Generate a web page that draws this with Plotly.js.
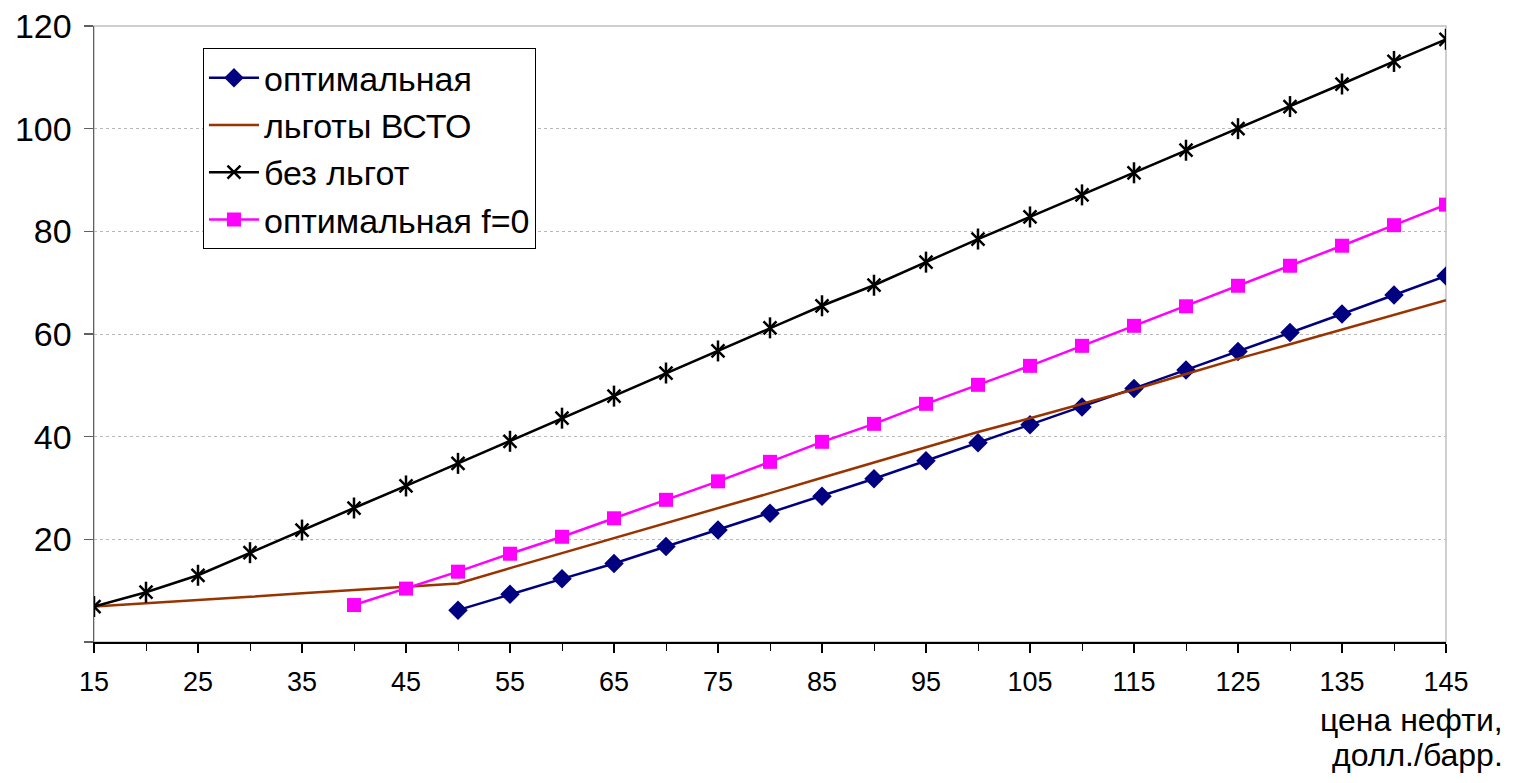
<!DOCTYPE html>
<html>
<head>
<meta charset="utf-8">
<script src="https://cdn.plot.ly/plotly-3.0.1.min.js"></script>
<style>html,body{margin:0;padding:0;background:#fff;}#chart{width:1514px;height:783px;}</style>
</head>
<body>
<div id="chart"></div>
<script>
// Data (oil price, USD/bbl)
const priceAll = [15,20,25,30,35,40,45,50,55,60,65,70,75,80,85,90,95,100,105,110,115,120,125,130,135,140,145];
const priceOpt = [50,55,60,65,70,75,80,85,90,95,100,105,110,115,120,125,130,135,140,145];
const priceF0 = [40,45,50,55,60,65,70,75,80,85,90,95,100,105,110,115,120,125,130,135,140,145];

const optimal = [6.2,9.3,12.3,15.3,18.6,21.8,25.1,28.4,31.8,35.3,38.8,42.3,45.8,49.4,53.0,56.6,60.3,63.9,67.6,71.3];
const vsto = [6.9,7.5,8.2,8.8,9.5,10.1,10.8,11.4,14.4,17.3,20.2,23.1,26.0,29.0,32.0,35.0,38.0,40.9,43.6,46.4,49.2,52.2,55.2,58.0,60.9,63.8,66.6];
const noBenefit = [6.9,9.7,13.0,17.4,21.8,26.1,30.4,34.8,39.1,43.6,47.9,52.4,56.7,61.2,65.5,69.5,74.0,78.5,82.8,87.1,91.4,95.8,100.0,104.3,108.7,113.1,117.4];
const optimalF0 = [7.2,10.4,13.7,17.2,20.5,24.1,27.7,31.3,35.1,39.0,42.5,46.4,50.1,53.8,57.7,61.6,65.4,69.4,73.3,77.2,81.2,85.2];

const seriesNames = ['оптимальная','льготы ВСТО','без льгот','оптимальная f=0'];
const xTickVals = [15,25,35,45,55,65,75,85,95,105,115,125,135,145];
const yTickVals = [0,20,40,60,80,100,120];
const yTickText = ['','20','40','60','80','100','120'];
const xTitleLines = ['цена нефти,', 'долл./барр.'];

const FONT = 'Liberation Sans, Arial, sans-serif';

const traces = [
  {x: priceOpt, y: optimal, name: seriesNames[0], mode: 'lines+markers', legendgroup: 'a',
   line: {color: '#000080', width: 2.5}, marker: {symbol: 'diamond', size: 15, color: '#000080'}},
  {x: priceAll, y: vsto, name: seriesNames[1], mode: 'lines', legendgroup: 'b',
   line: {color: '#993300', width: 2.5}},
  {x: priceAll, y: noBenefit, name: seriesNames[2], mode: 'lines+markers', legendgroup: 'c',
   line: {color: '#000000', width: 2.5}, marker: {symbol: 'x-thin-open', size: 13, color: '#000000', line: {width: 2.5, color: '#000000'}}},
  {x: priceAll, y: noBenefit, name: seriesNames[2], mode: 'markers', legendgroup: 'c', showlegend: false, hoverinfo: 'skip',
   marker: {symbol: 'line-ns-open', size: 15, color: '#000000', line: {width: 2.5, color: '#000000'}}},
  {x: priceF0, y: optimalF0, name: seriesNames[3], mode: 'lines+markers', legendgroup: 'd',
   line: {color: '#FF00FF', width: 2.5}, marker: {symbol: 'square', size: 14, color: '#FF00FF'}}
];

const layout = {
  width: 1514, height: 783,
  margin: {l: 94, r: 68, t: 26, b: 141},
  paper_bgcolor: '#ffffff', plot_bgcolor: '#ffffff',
  font: {family: FONT, color: '#000000', size: 30},
  showlegend: true,
  legend: {
    x: 0.0806, y: 0.964, xanchor: 'left', yanchor: 'top',
    bgcolor: '#ffffff', bordercolor: '#000000', borderwidth: 1,
    font: {family: FONT, size: 34, color: '#000000'},
    traceorder: 'grouped', tracegroupgap: 0, itemwidth: 50
  },
  xaxis: {
    range: [15, 145], tickmode: 'array', tickvals: xTickVals,
    showgrid: false, zeroline: false,
    showline: true, linecolor: '#000000', linewidth: 1.5,
    ticks: 'outside', ticklen: 9, tickwidth: 1.5, tickcolor: '#000000',
    ticklabelstandoff: 6,
    tickfont: {family: FONT, size: 27, color: '#000000'},
    minor: {tick0: 20, dtick: 10, ticks: 'outside', ticklen: 7, tickwidth: 1, tickcolor: '#000000', showgrid: false}
  },
  yaxis: {
    range: [0, 120], tickmode: 'array', tickvals: yTickVals, ticktext: yTickText,
    showgrid: true, gridcolor: '#b8b8b8', griddash: 'dot', gridwidth: 1,
    zeroline: false, showline: true, linecolor: '#606060', linewidth: 1.5,
    ticks: 'outside', ticklen: 9, tickwidth: 1.5, tickcolor: '#606060',
    ticklabelstandoff: 5,
    tickfont: {family: FONT, size: 34, color: '#000000'}
  },
  shapes: [
    {type: 'rect', xref: 'paper', yref: 'paper', x0: 0, x1: 1, y0: 0, y1: 1,
     line: {color: '#c0c0c0', width: 1.5}, layer: 'below'}
  ],
  annotations: [
    {text: xTitleLines[0], xref: 'paper', yref: 'paper', x: 1.0436, y: -0.1266, xanchor: 'right', yanchor: 'middle',
     showarrow: false, font: {family: FONT, size: 32, color: '#000000'}},
    {text: xTitleLines[1], xref: 'paper', yref: 'paper', x: 1.0436, y: -0.1834, xanchor: 'right', yanchor: 'middle',
     showarrow: false, font: {family: FONT, size: 32, color: '#000000'}}
  ]
};

Plotly.newPlot('chart', traces, layout, {displayModeBar: false, staticPlot: true});
</script>
</body>
</html>
